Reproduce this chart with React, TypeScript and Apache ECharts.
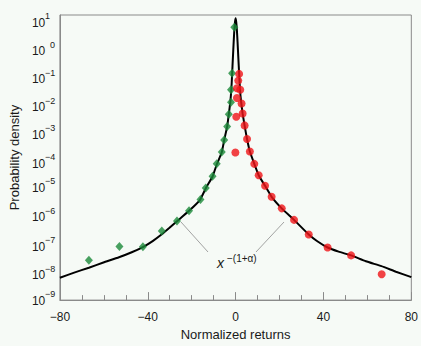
import React, { useEffect, useRef } from 'react';
import * as echarts from 'echarts';

// Fitted curve
const curveX = [
  -80, -73.5, -66.8, -60.2, -53.1, -47.3, -42.0, -37.6, -33.6, -30.1, -26.7, -21.2, -16.2, -13.5,
  -10.5, -8.6, -6.3, -5.2, -3.85, -3.1, -2.4, -1.95, -1.6, -1.24, -0.88, -0.58, -0.27, 0,
  0.27, 0.58, 0.88, 1.24, 1.6, 2.0, 2.5, 3.2, 4.1, 5.2, 6.5, 8.5, 10.5, 13.4, 16.4, 21.0,
  26.6, 33.3, 37.2, 41.9, 46.9, 52.6, 59.3, 66.4, 73, 80,
];
const curveY = [
  6.1e-9, 9.2e-9, 1.37e-8, 2.08e-8, 3.18e-8, 4.76e-8, 7.4e-8, 1.2e-7, 2.03e-7, 3.43e-7, 5.8e-7, 1.35e-6, 3.3e-6, 8.6e-6,
  2.17e-5, 5.7e-5, 1.53e-4, 4.1e-4, 1.21e-3, 3.3e-3, 9.1e-3, 0.0239, 0.0798, 0.314, 1.14, 3.0, 5.7, 7.7,
  5.7, 3.0, 1.14, 0.314, 0.09, 0.0239, 9.1e-3, 3.45e-3, 1.32e-3, 4.5e-4, 1.62e-4, 6.0e-5, 2.4e-5, 1.02e-5, 4.2e-6, 1.65e-6,
  6.5e-7, 2.0e-7, 1.16e-7, 7.0e-8, 5.0e-8, 3.7e-8, 2.3e-8, 1.55e-8, 9.9e-9, 6.4e-9,
];

// Negative returns (green diamonds)
const greenX = [-0.6, -1.6, -2.1, -2.1, -3.1, -3.85, -5.2, -6.3, -8.6, -10.5, -13.6, -16.0, -21.2, -26.7, -33.6, -42.2, -52.9, -66.8];
const greenY = [3.7, 0.09, 0.024, 0.0087, 0.0033, 0.00124, 4.1e-4, 1.56e-4, 6.0e-5, 2.2e-5, 8.6e-6, 3.4e-6, 1.35e-6, 5.9e-7, 2.65e-7, 7.4e-8, 7.6e-8, 2.5e-8];

// Positive returns (red circles)
const redX = [1.6, 1.2, 0.6, 2.1, 0.6, 2.7, 0.3, 3.2, 4.1, 5.2, -0.1, 6.5, 8.5, 10.5, 13.4, 16.4, 21.0, 26.6, 33.3, 41.9, 52.6, 66.5];
const redY = [0.086, 0.05, 0.027, 0.024, 0.0122, 0.0079, 0.0027, 0.0035, 0.00134, 4.5e-4, 1.5e-4, 1.62e-4, 6.0e-5, 2.4e-5, 1.02e-5, 4.2e-6, 1.65e-6, 6.5e-7, 2.0e-7, 7.0e-8, 3.7e-8, 8.1e-9];

const FONT = "'Liberation Sans', Arial, Helvetica, sans-serif";
const TEXT = '#1a1a1a';
const AXIS = '#8a8a8a';

// how far (px) each y label sits below its decade in the reference, exponent -9 .. 1
const labelDrop = [0.5, 3.6, 3.7, 2.3, 1.4, 6, 5.6, 6.7, 6.8, 7.4, 7.5];

const rich: Record<string, any> = {
  b: { fontFamily: FONT, fontSize: 12, lineHeight: 12, color: TEXT },
  s: { fontFamily: FONT, fontSize: 9, lineHeight: 1, color: TEXT, padding: [0, 0, 0, 13] },
  z: { fontFamily: FONT, fontSize: 9, lineHeight: 1, color: TEXT, padding: [0, 0, 0, 18] },
};
labelDrop.forEach((d, i) => {
  const g = Math.max(0, Math.round(2 * d - 1));
  rich['g' + i] = { fontSize: 1, lineHeight: Math.max(1, g) };
});

export default function App() {
  const ref = useRef<HTMLDivElement>(null);
  useEffect(() => {
    const chart = echarts.init(ref.current as HTMLDivElement, null, { renderer: 'svg' });
    chart.setOption({
      animation: false,
      backgroundColor: '#f6faf6',
      grid: { left: 51, right: 8, top: 15, bottom: 45, show: true, borderColor: AXIS, borderWidth: 1 },
      xAxis: {
        type: 'value', min: -80, max: 80, interval: 40,
        name: 'Normalized returns', nameLocation: 'middle', nameGap: 27,
        nameTextStyle: { fontFamily: FONT, fontSize: 13, color: TEXT },
        axisLine: { onZero: false, lineStyle: { color: AXIS, width: 1 } },
        axisTick: { inside: true, length: 8, lineStyle: { color: AXIS } },
        minorTick: { show: true, splitNumber: 4, length: 5, lineStyle: { color: AXIS } },
        splitLine: { show: false },
        axisLabel: {
          margin: 11, fontFamily: FONT, fontSize: 12, color: TEXT, showMinLabel: true, showMaxLabel: true,
          alignMinLabel: 'center', alignMaxLabel: 'center',
          formatter: (v: number) => (v < 0 ? '\u2212' + Math.abs(v) : String(v)),
        },
      },
      yAxis: {
        type: 'log', logBase: 10, min: 1e-9, max: 10, interval: 1,
        name: 'Probability density', nameLocation: 'middle', nameGap: 37,
        nameTextStyle: { fontFamily: FONT, fontSize: 13, color: TEXT },
        axisLine: { show: true, onZero: false, lineStyle: { color: AXIS, width: 1 } },
        axisTick: { show: false },
        splitLine: { show: false },
        axisLabel: {
          align: 'left', margin: 28, showMinLabel: true, showMaxLabel: true,
          formatter: (v: number) => {
            const e = Math.round(Math.log10(v));
            const idx = e + 9;
            const g = Math.round(2 * (labelDrop[idx] || 0) - 1);
            const head = g >= 1 ? '{g' + idx + '| }\n' : '';
            const sup = e === 0 ? '{z|0}' : '{s|' + (e < 0 ? '\u2212' + Math.abs(e) : String(e)) + '}';
            return head + sup + '\n{b|10}';
          },
          rich,
        },
      },
      series: [
        {
          type: 'line', data: curveX.map((x, i) => [x, curveY[i]]),
          showSymbol: false, symbol: 'none', smooth: 0.15,
          lineStyle: { color: '#000', width: 2 }, z: 2,
        },
        {
          type: 'scatter', data: greenX.map((x, i) => [x, greenY[i]]),
          symbol: 'diamond', symbolSize: [8, 9], itemStyle: { color: '#1b8a3a' }, z: 3,
        },
        {
          type: 'scatter', data: redX.map((x, i) => [x, redY[i]]),
          symbol: 'circle', symbolSize: 8, itemStyle: { color: '#f01418' }, z: 3,
        },
      ],
      graphic: [
        { type: 'line', shape: { x1: 181, y1: 222, x2: 208, y2: 252 }, style: { stroke: '#8c8c8c', lineWidth: 0.8 } },
        { type: 'line', shape: { x1: 284, y1: 222, x2: 256, y2: 252 }, style: { stroke: '#8c8c8c', lineWidth: 0.8 } },
        { type: 'text', x: 217, y: 263, style: { text: 'x', fontFamily: FONT, fontSize: 14, fontStyle: 'italic', fill: TEXT, verticalAlign: 'middle' } },
        { type: 'text', x: 227, y: 258, style: { text: '\u2212(1+\u03b1)', fontFamily: FONT, fontSize: 10, fill: TEXT, verticalAlign: 'middle' } },
      ],
    });
    return () => chart.dispose();
  }, []);
  return <div ref={ref} style={{ position: 'fixed', left: 0, top: 0, width: 421, height: 346 }} />;
}
